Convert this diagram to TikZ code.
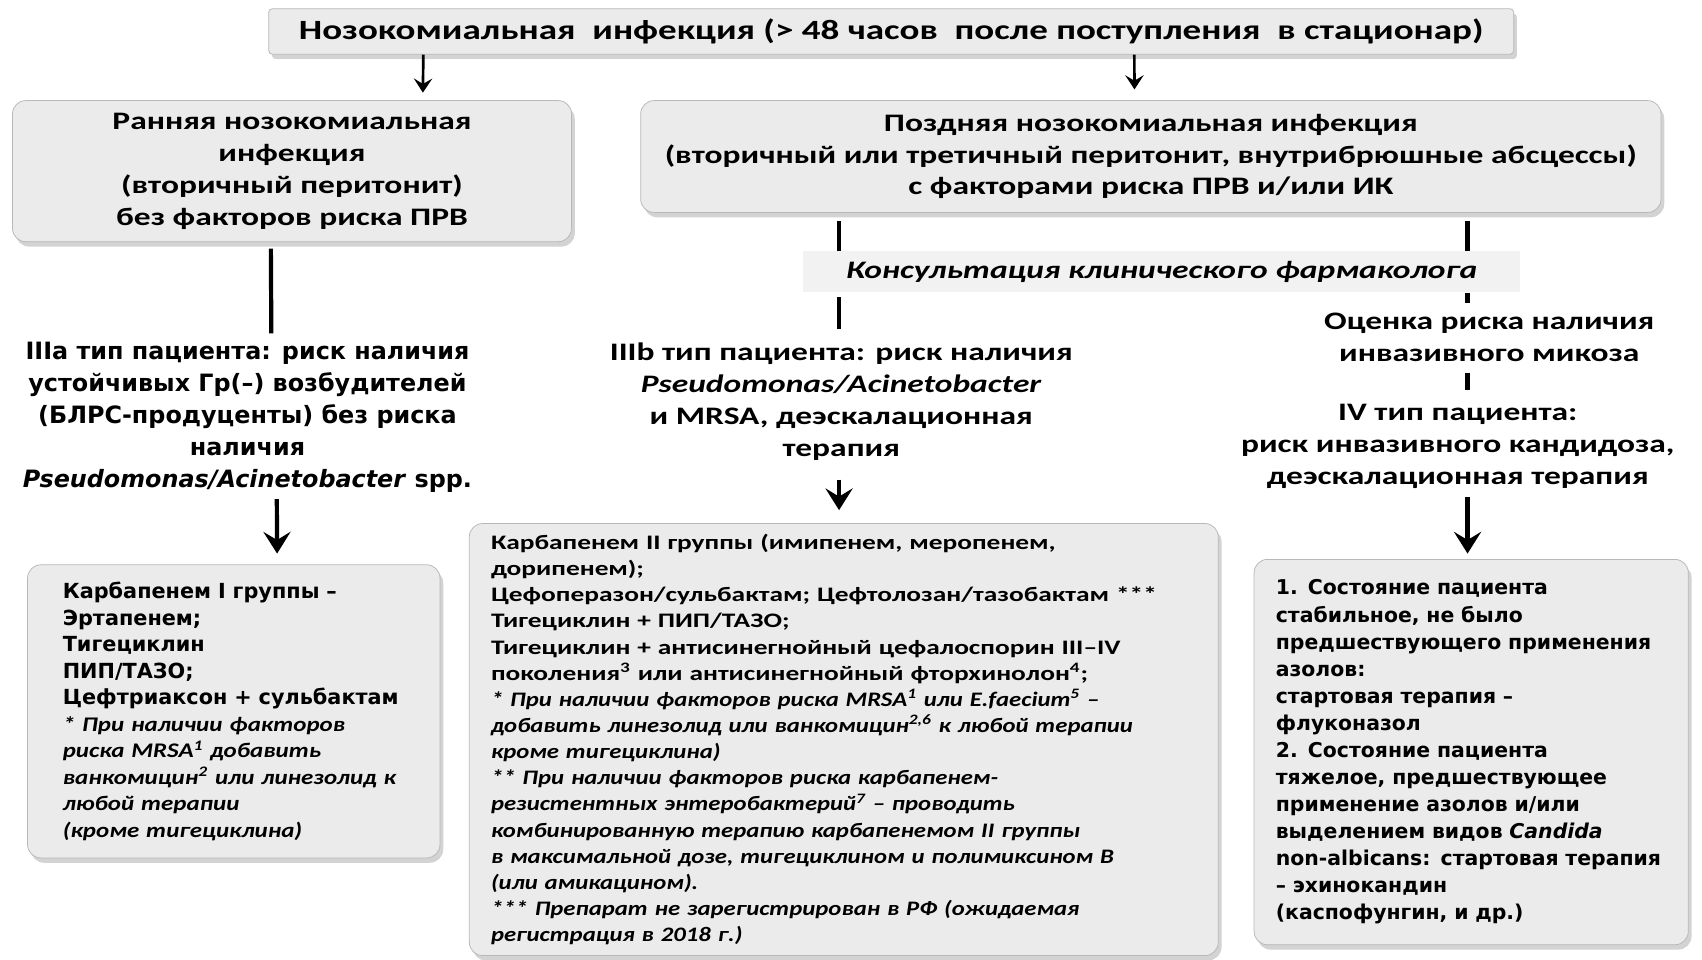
\documentclass[tikz,border=0pt]{standalone}
\usepackage{fontspec}
\setmainfont{Carlito}[FakeStretch=1.33]
\newfontfamily\widefont{DejaVu Sans}
\newfontfamily\condfont{Carlito}[FakeStretch=1.2]
\usepackage{tikz}
\usetikzlibrary{arrows.meta, positioning, shadows}
\definecolor{BoxGray}{HTML}{EBEBEB}
\definecolor{EdgeGray}{HTML}{B8B8B8}
\definecolor{BandGray}{HTML}{F2F2F2}
\newcommand{\headsize}{\fontsize{13.2}{16.7}\selectfont}
\newcommand{\remark}[1]{{\condfont\bfseries\itshape #1}}

\begin{document}
\begin{tikzpicture}[
  box/.style={rectangle, rounded corners=7pt, draw=EdgeGray, fill=BoxGray,
              drop shadow={shadow xshift=0.6mm, shadow yshift=-0.9mm, opacity=0.35},
              align=center, font=\bfseries\headsize},
  topbox/.style={box, rounded corners=2pt, font=\bfseries\fontsize{14.6}{17}\selectfont},
  band/.style={rectangle, fill=BandGray, minimum width=13.2cm,
               minimum height=0.76cm, font=\bfseries\itshape\headsize},
  txt/.style={align=center, inner sep=2pt, font=\bfseries\headsize},
  widetxt/.style={txt, font=\widefont\bfseries\fontsize{12.5}{16.7}\selectfont},
  listbox/.style={box, align=left, anchor=north west},
  link/.style={line width=2.2pt},
  arr/.style={-{Stealth[length=4mm, width=5mm, inset=1.5mm]}, line width=2.2pt},
  thinarr/.style={-{Stealth[length=2.6mm, width=3.4mm, inset=1mm]}, line width=1.4pt},
]
\useasboundingbox (0,0) rectangle (31.36,-17.68);

\node[topbox, minimum width=22.94cm, minimum height=0.84cm] (top) at (16.42,-0.58)
  {Нозокомиальная\ \ инфекция (> 48 часов\ \ после поступления\ \ в стационар)};

\node[box, minimum width=10.3cm, minimum height=2.6cm,
      below right=0.84cm and -4.72cm of top.south west] (early)
  {Ранняя нозокомиальная\\инфекция\\(вторичный перитонит)\\без факторов риска ПРВ};
\node[box, minimum width=18.8cm, minimum height=2.06cm,
      right=1.26cm of early.north east, anchor=north west] (late)
  {Поздняя нозокомиальная инфекция\\(вторичный или третичный перитонит, внутрибрюшные абсцессы)\\с факторами риска ПРВ и/или ИК};

\node[band, below=0.7cm of late, xshift=0.2cm] (consult)
  {Консультация клинического фармаколога};

\node[widetxt] (iiia) at (4.56,-7.69)
  {IIIa тип пациента: риск наличия\\устойчивых Гр(–) возбудителей\\(БЛРС-продуценты) без риска\\наличия\\\textit{Pseudomonas/Acinetobacter} spp.};
\node[txt] (iiib) at (15.5,-7.4)
  {IIIb тип пациента: риск наличия\\\textit{Pseudomonas/Acinetobacter}\\и MRSA, деэскалационная\\терапия};
\node[txt] (risk) at (27.44,-6.21)
  {Оценка риска наличия\\инвазивного микоза};
\node[txt] (iv) at (26.86,-8.22)
  {IV тип пациента:\\риск инвазивного кандидоза,\\деэскалационная терапия};

\node[listbox, text width=6.3cm, inner xsep=0.65cm, minimum height=5.4cm,
      font=\widefont\bfseries\fontsize{10.9}{13.9}\selectfont] (drugsa) at (0.5,-10.4)
  {Карбапенем I группы –\\Эртапенем;\\Тигециклин\\ПИП/ТАЗО;\\Цефтриаксон + сульбактам\\
   \remark{* При наличии факторов}\\\remark{риска MRSA\textsuperscript{1} добавить}\\
   \remark{ванкомицин\textsuperscript{2} или линезолид к}\\\remark{любой терапии}\\\remark{(кроме тигециклина)}};
\node[listbox, text width=13.0cm, inner xsep=0.4cm, minimum height=7.96cm,
      font=\bfseries\fontsize{10.8}{13.7}\selectfont] (drugsb) at (8.64,-9.64)
  {Карбапенем II группы (имипенем, меропенем,\\дорипенем);\\
   Цефоперазон/сульбактам; Цефтолозан/тазобактам ***\\Тигециклин + ПИП/ТАЗО;\\
   Тигециклин + антисинегнойный цефалоспорин III–IV\\
   поколения\textsuperscript{3} или антисинегнойный фторхинолон\textsuperscript{4};\\
   \remark{* При наличии факторов риска MRSA\textsuperscript{1} или E.faecium\textsuperscript{5} –}\\
   \remark{добавить линезолид или ванкомицин\textsuperscript{2,6} к любой терапии}\\
   \remark{кроме тигециклина)}\\
   \remark{** При наличии факторов риска карбапенем-}\\
   \remark{резистентных энтеробактерий\textsuperscript{7} – проводить}\\
   \remark{комбинированную терапию карбапенемом II группы}\\
   \remark{в максимальной дозе, тигециклином и полимиксином В}\\
   \remark{(или амикацином).}\\
   \remark{*** Препарат не зарегистрирован в РФ (ожидаемая}\\
   \remark{регистрация в 2018 г.)}};
\node[listbox, text width=7.2cm, inner xsep=0.4cm, minimum height=7.1cm,
      font=\widefont\bfseries\fontsize{10.7}{14.2}\selectfont] (drugsc) at (23.1,-10.3)
  {1. Состояние пациента\\стабильное, не было\\предшествующего применения\\азолов:\\
   стартовая терапия –\\флуконазол\\2. Состояние пациента\\тяжелое, предшествующее\\
   применение азолов и/или\\выделением видов \textit{Candida}\\non-albicans: стартовая терапия\\
   – эхинокандин\\(каспофунгин, и др.)};

\coordinate (lx) at (15.46,0);
\coordinate (rx) at (27.04,0);

\draw[thinarr, shorten >=0.14cm] ([xshift=-8.62cm]top.south) -- ([xshift=2.41cm]early.north);
\draw[thinarr, shorten >=0.2cm] ([xshift=4.48cm]top.south) -- ([xshift=-0.3cm]late.north);

\draw[link, shorten <=0.12cm, shorten >=0.09cm] ([xshift=-0.39cm]early.south) -- ([xshift=0.44cm]iiia.north);
\draw[link, shorten <=0.16cm] (late.south -| lx) -- (consult.north -| lx);
\draw[link, shorten <=0.08cm, shorten >=0.18cm] (consult.south -| lx) -- (iiib.north -| lx);
\draw[link, shorten <=0.16cm] (late.south -| rx) -- (consult.north -| rx);
\draw[link, shorten >=0.11cm] (consult.south -| rx) -- (risk.north -| rx);
\draw[link, shorten <=0.13cm, shorten >=0.19cm] (risk.south -| rx) -- (iv.north -| rx);

\draw[arr, shorten <=0.05cm, shorten >=0.2cm] ([xshift=0.54cm]iiia.south) -- ([xshift=0.8cm]drugsa.north);
\draw[arr, shorten <=0.28cm, shorten >=0.24cm] (iiib.south -| lx) -- (drugsb.north -| lx);
\draw[arr, shorten <=0.09cm, shorten >=0.1cm] (iv.south -| rx) -- (drugsc.north -| rx);

\end{tikzpicture}
\end{document}
